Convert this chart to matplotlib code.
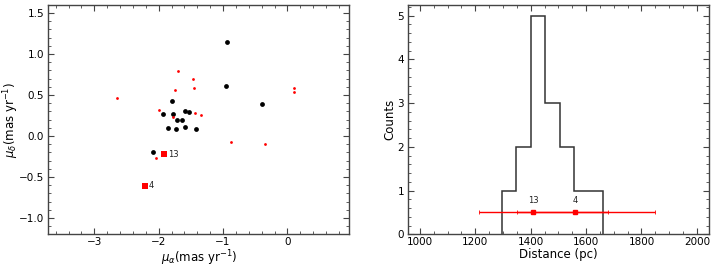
import matplotlib
matplotlib.use("Agg")
import matplotlib.pyplot as plt
from matplotlib.ticker import MultipleLocator

# Left panel: proper motions
members_pmra = [-0.94, -0.95, -0.40, -1.80, -1.93, -1.77, -1.59, -1.53, -1.72, -1.63, -1.85, -1.73, -1.59, -1.42, -2.09]
members_pmdec = [1.15, 0.61, 0.39, 0.43, 0.27, 0.27, 0.31, 0.29, 0.19, 0.20, 0.10, 0.08, 0.11, 0.08, -0.20]

field_pmra = [-2.65, -1.70, -1.46, -1.75, -1.45, -2.00, -1.78, -1.44, -1.34, -0.88, -0.34, 0.10, 0.10, -2.04]
field_pmdec = [0.46, 0.79, 0.70, 0.56, 0.59, 0.32, 0.23, 0.28, 0.25, -0.07, -0.10, 0.59, 0.54, -0.27]

special_ids = ["13", "4"]
special_pmra = [-1.92, -2.21]
special_pmdec = [-0.225, -0.61]

# Right panel: distance histogram
bin_edges = [1296, 1348, 1400, 1452, 1504, 1557, 1609, 1661]
counts = [1, 2, 5, 3, 2, 1, 1]

special_dist = [1408, 1561]
special_err_lo = [195, 212]
special_err_hi = [272, 288]
special_y = [0.5, 0.5]

plt.rcParams['font.family'] = ['DejaVu Sans']
plt.rcParams['mathtext.fontset'] = 'dejavusans'

TICK_FS = 7.5
LABEL_FS = 8.5

fig = plt.figure(figsize=(7.14, 2.67), dpi=100)
ax1 = fig.add_axes([0.0677, 0.1225, 0.4213, 0.8595])
ax2 = fig.add_axes([0.5719, 0.1225, 0.4215, 0.8595])

spine_color = '#444444'
for ax in (ax1, ax2):
    for s in ax.spines.values():
        s.set_color(spine_color)
        s.set_linewidth(1.0)
    ax.tick_params(which='both', direction='in', top=True, right=True, color=spine_color,
                   labelsize=TICK_FS)
    ax.tick_params(which='major', length=4, width=0.8)
    ax.tick_params(which='minor', length=2, width=0.6)
    ax.tick_params(axis='x', which='both', pad=2)
    ax.tick_params(axis='y', which='both', pad=3)

ax1.scatter(members_pmra, members_pmdec, s=12, color='black', zorder=3, linewidths=0)
ax1.scatter(field_pmra, field_pmdec, s=4, color='red', zorder=3, linewidths=0)
ax1.scatter(special_pmra, special_pmdec, s=22, marker='s', color='red', zorder=4, linewidths=0)
for lab, x, y in zip(special_ids, special_pmra, special_pmdec):
    ax1.text(x + 0.06, y, lab, fontsize=6, va='center', ha='left', color='#222222')
ax1.set_xlim(-3.715, 0.96)
ax1.set_ylim(-1.2, 1.6)
ax1.xaxis.set_major_locator(MultipleLocator(1))
ax1.xaxis.set_minor_locator(MultipleLocator(0.2))
ax1.yaxis.set_major_locator(MultipleLocator(0.5))
ax1.yaxis.set_minor_locator(MultipleLocator(0.1))
ax1.set_xlabel(r'$\mu_{\alpha}$(mas yr$^{-1}$)', fontsize=LABEL_FS, labelpad=1)
ax1.set_ylabel(r'$\mu_{\delta}$(mas yr$^{-1}$)', fontsize=LABEL_FS)
ax1.yaxis.set_label_coords(-0.09, 0.5)

ax2.stairs(counts, bin_edges, color='#333333', linewidth=1.1)
ax2.errorbar(special_dist, special_y, xerr=[special_err_lo, special_err_hi], fmt='s',
             color='red', markersize=3.5, elinewidth=1.0, capsize=1.5, capthick=0.6, zorder=4)
for lab, x in zip(special_ids, special_dist):
    ax2.text(x, 0.78, lab, fontsize=6, ha='center', va='center', color='#222222')
ax2.set_xlim(958, 2045)
ax2.set_ylim(0, 5.25)
ax2.xaxis.set_major_locator(MultipleLocator(200))
ax2.xaxis.set_minor_locator(MultipleLocator(50))
ax2.yaxis.set_major_locator(MultipleLocator(1))
ax2.yaxis.set_minor_locator(MultipleLocator(0.2))
ax2.set_xlabel('Distance (pc)', fontsize=LABEL_FS, labelpad=1)
ax2.set_ylabel('Counts', fontsize=LABEL_FS)
ax2.yaxis.set_label_coords(-0.04, 0.5)

fig.savefig('out.png', dpi=100)
